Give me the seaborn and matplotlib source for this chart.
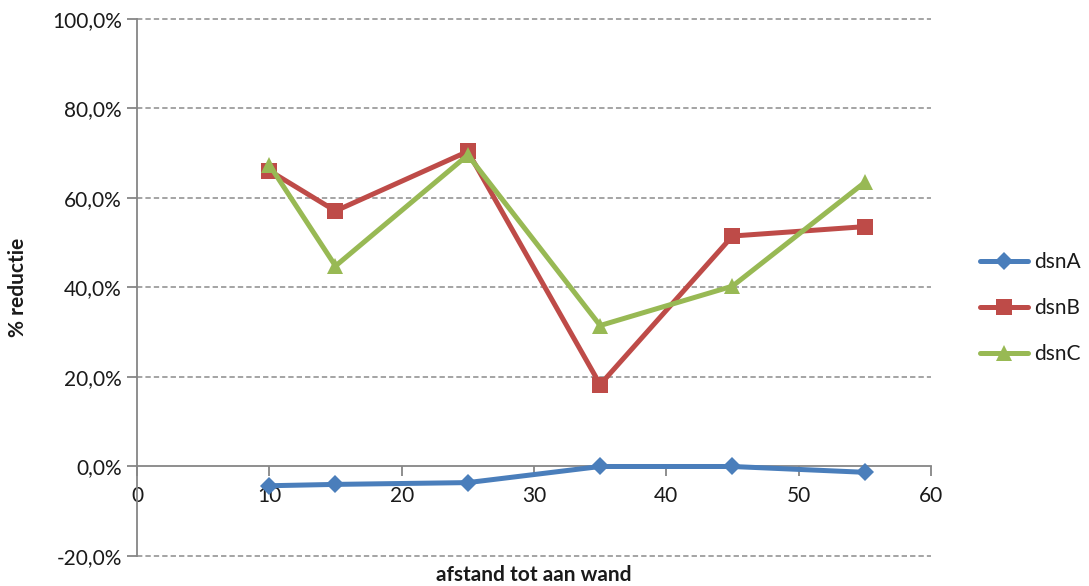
import matplotlib
matplotlib.use("Agg")
import matplotlib.pyplot as plt
import seaborn as sns
import pandas as pd
from matplotlib.ticker import FuncFormatter, MultipleLocator

# afstand tot aan wand (x) and % reductie per design
afstand = [10, 15, 25, 35, 45, 55]
dsnA = [-4.3, -4.0, -3.6, 0.0, 0.0, -1.3]
dsnB = [66.1, 57.1, 70.4, 18.3, 51.5, 53.6]
dsnC = [67.4, 44.8, 69.6, 31.5, 40.3, 63.5]
series_names = ["dsnA", "dsnB", "dsnC"]

df = pd.concat([
    pd.DataFrame({"afstand": afstand, "reductie": vals, "serie": name})
    for name, vals in zip(series_names, [dsnA, dsnB, dsnC])
], ignore_index=True)

sns.set_theme(style="white")
plt.rcParams["font.family"] = ["Lato", "DejaVu Sans"]

colors = {"dsnA": "#4A7EBB", "dsnB": "#BE4B48", "dsnC": "#98B954"}
markers = {"dsnA": "D", "dsnB": "s", "dsnC": "^"}
msizes = {"dsnA": 9, "dsnB": 11, "dsnC": 11}
FS = 15

fig = plt.figure(figsize=(10.89, 5.86), dpi=100)
ax = fig.add_axes([0.1258, 0.0512, 0.7291, 0.9164])

for name in series_names:
    sub = df[df["serie"] == name]
    sns.lineplot(data=sub, x="afstand", y="reductie", ax=ax, color=colors[name],
                 marker=markers[name], markersize=msizes[name], markeredgewidth=0,
                 linewidth=3.6, label=name, estimator=None, sort=False)

ax.set_xlim(0, 60)
ax.set_ylim(-20, 100)
ax.yaxis.set_major_locator(MultipleLocator(20))
ax.xaxis.set_major_locator(MultipleLocator(10))
ax.yaxis.set_major_formatter(FuncFormatter(lambda v, p: f"{v:.1f}%".replace(".", ",")))

# horizontal dashed grid
for yv in [-20, 20, 40, 60, 80, 100]:
    ax.axhline(yv, color="#8c8c8c", linewidth=1.1, linestyle=(0, (3.5, 2)), zorder=0,
               clip_on=False)
ax.grid(False)

for s in ["top", "right"]:
    ax.spines[s].set_visible(False)
ax.spines["bottom"].set_position(("data", 0))
ax.spines["bottom"].set_color("#868686")
ax.spines["bottom"].set_linewidth(1.3)
ax.spines["left"].set_color("#868686")
ax.spines["left"].set_linewidth(1.3)
ax.spines["bottom"].set_zorder(0.5)

ax.tick_params(axis="both", which="major", labelsize=FS, colors="#868686",
               labelcolor="#1a1a1a", length=7, width=1.3, direction="out")
ax.tick_params(axis="x", pad=7)
ax.tick_params(axis="y", pad=4, left=True)
ax.tick_params(axis="x", bottom=True)

ax.set_xlabel("afstand tot aan wand", fontsize=FS, fontweight="bold", color="#1a1a1a")
ax.set_ylabel("% reductie", fontsize=FS, fontweight="bold", color="#1a1a1a")
ax.xaxis.set_label_coords(0.5, -0.016)
ax.yaxis.set_label_coords(-0.137, 0.5)

leg = ax.legend(loc="center left", bbox_to_anchor=(0.9, 0.474),
                bbox_transform=fig.transFigure, frameon=False, fontsize=FS,
                labelspacing=1.25, handlelength=2.3, handletextpad=0.3,
                borderpad=0, borderaxespad=0)
for t in leg.get_texts():
    t.set_color("#1a1a1a")

fig.savefig("out.png", dpi=100)
